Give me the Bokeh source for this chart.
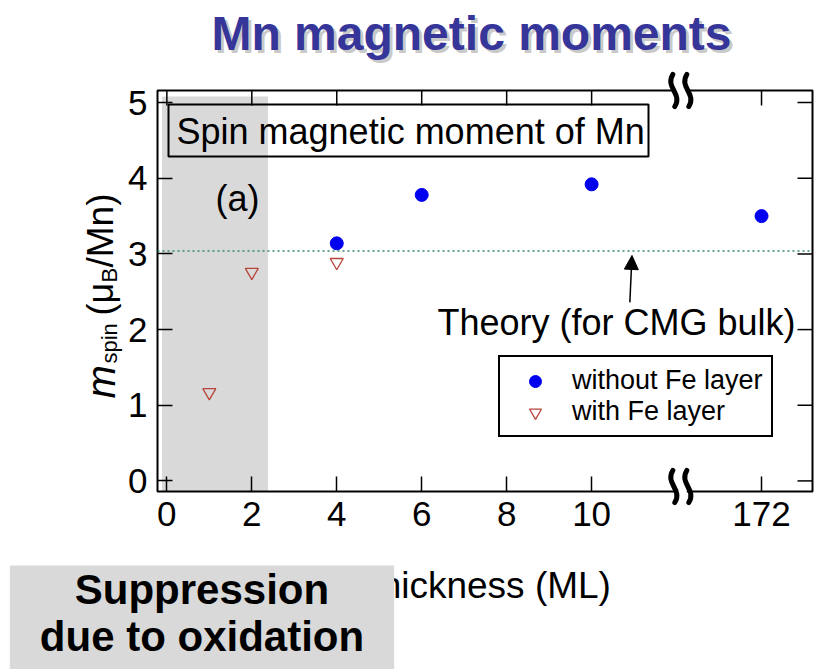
import math
from bokeh.plotting import figure
from bokeh.models import (Range1d, FixedTicker, Label, BoxAnnotation,
                          Arrow, NormalHead, Legend, LegendItem)
from bokeh.embed import file_html
from bokeh.resources import INLINE

# Mn spin magnetic moment versus layer thickness (ML)
thick_without = [4, 6, 10, 172]
m_without = [3.14, 3.78, 3.92, 3.50]
thick_with = [1, 2, 4]
m_with = [1.17, 2.76, 2.89]
theory_bulk = 3.04          # calculated value for bulk CMG
oxidized_up_to = 2.38       # thickness range suppressed by oxidation

x_tick_values = [0, 2, 4, 6, 8, 10, 172]
y_tick_values = [0, 1, 2, 3, 4, 5]

# broken x axis: everything past the break is drawn at a compressed position
BREAK_POS = 12.1
BULK_POS = 14.0


def axis_x(t):
    return t if t <= BREAK_POS else BULK_POS + (t - 172) * 0.01


FONT = "Liberation Sans"
W, H = 819, 669
# the axes box: pixel edges and the data span it shows
FL, FR, FT, FB = 157, 812, 90, 491
BOX_X = (-0.22, 15.2)
BOX_Y = (-0.14, 5.16)
TICK_LEN = 15

# the plotting area covers the whole canvas; axes are pinned to the box edges
ux = (BOX_X[1] - BOX_X[0]) / (FR - FL)
uy = (BOX_Y[1] - BOX_Y[0]) / (FB - FT)
x_range = Range1d(BOX_X[0] - FL * ux, BOX_X[1] + (W - FR) * ux)
y_range = Range1d(BOX_Y[0] - (H - FB) * uy, BOX_Y[1] + FT * uy)


def px(sx):
    return BOX_X[0] + (sx - FL) * ux


def py(sy):
    return BOX_Y[0] + (FB - sy) * uy


p = figure(width=W, height=H, x_range=x_range, y_range=y_range,
           output_backend="svg", toolbar_location=None,
           min_border_left=0, min_border_right=0, min_border_top=0, min_border_bottom=0)
p.xgrid.visible = False
p.ygrid.visible = False
p.outline_line_color = None
p.background_fill_color = "white"
p.border_fill_color = "white"

x_ticks = [axis_x(t) for t in x_tick_values]
x_overrides = {axis_x(t): str(t) for t in x_tick_values}


def style_axis(ax, loc):
    ax.fixed_location = loc
    ax.axis_line_color = None
    ax.major_tick_in = TICK_LEN
    ax.major_tick_out = 0
    ax.minor_tick_line_color = None
    ax.major_tick_line_color = "black"
    ax.major_tick_line_width = 1.5
    ax.major_label_text_font = FONT
    ax.major_label_text_font_size = "35px"
    ax.major_label_text_color = "black"
    ax.major_label_standoff = 10


xb = p.xaxis[0]
xb.ticker = FixedTicker(ticks=x_ticks)
xb.major_label_overrides = x_overrides
style_axis(xb, BOX_Y[0])

yl = p.yaxis[0]
yl.ticker = FixedTicker(ticks=y_tick_values)
style_axis(yl, BOX_X[0])

# mirrored inward ticks on the top and right edges of the box
p.segment(x0=x_ticks, y0=[BOX_Y[1]] * len(x_ticks),
          x1=x_ticks, y1=[BOX_Y[1] - TICK_LEN * uy] * len(x_ticks),
          line_color="black", line_width=1.5)
p.segment(x0=[BOX_X[1]] * len(y_tick_values), y0=y_tick_values,
          x1=[BOX_X[1] - TICK_LEN * ux] * len(y_tick_values), y1=y_tick_values,
          line_color="black", line_width=1.5)

# shaded oxidation region
p.add_layout(BoxAnnotation(left=px(161.5), right=oxidized_up_to, top=py(96),
                           bottom=BOX_Y[0], fill_color="#d9d9d9", fill_alpha=1.0,
                           line_color=None, level="underlay"))

# axes frame
p.add_layout(BoxAnnotation(left=BOX_X[0], right=BOX_X[1], bottom=BOX_Y[0], top=BOX_Y[1],
                           fill_alpha=0, line_color="black", line_alpha=1.0,
                           line_width=2, level="underlay"))

# axis break marks: a gap in the frame line and two S-shaped strokes
bx = (BREAK_POS - BOX_X[0]) / ux + FL          # break centre in pixels
for edge, cy in ((FT, FT), (FB, FB - 5)):
    p.segment(x0=[px(bx - 6)], y0=[py(edge)], x1=[px(bx + 6)], y1=[py(edge)],
              line_color="white", line_width=5)
    for sx in (bx - 7, bx + 7):
        top, bot = cy - 16, cy + 16
        p.bezier(x0=[px(sx - 1)], y0=[py(top)], x1=[px(sx + 1)], y1=[py(bot)],
                 cx0=[px(sx - 9)], cy0=[py(top + 13)], cx1=[px(sx + 9)], cy1=[py(bot - 13)],
                 line_color="black", line_width=5, line_cap="round")

# theory line with pointer
p.line([BOX_X[0], BOX_X[1]], [theory_bulk, theory_bulk], line_color="#2e8b6a",
       line_dash="2 3", line_width=1.5)
p.add_layout(Arrow(end=NormalHead(size=14, fill_color="black", line_color="black"),
                   x_start=10.9, y_start=theory_bulk - 0.68,
                   x_end=10.95, y_end=theory_bulk - 0.06,
                   line_color="black", line_width=1.5))
p.add_layout(Label(x=px(437), y=py(322), text="Theory (for CMG bulk)",
                   text_font=FONT, text_font_size="36px", text_color="black",
                   text_align="left", text_baseline="middle"))

# data
r_without = p.scatter([axis_x(t) for t in thick_without], m_without, marker="circle",
                      size=13, fill_color="#0000f0", line_color="#0000f0")
r_with = p.scatter([axis_x(t) for t in thick_with], m_with, marker="inverted_triangle",
                   size=13, fill_color=None, line_color="#b8443a", line_width=1.3)

legend = Legend(items=[LegendItem(label="without Fe layer", renderers=[r_without]),
                       LegendItem(label="with Fe layer", renderers=[r_with])],
                location=(498, H - 437), orientation="vertical")
legend.label_text_font = FONT
legend.label_text_font_size = "27px"
legend.label_text_color = "black"
legend.label_height = 30
legend.glyph_height = 30
legend.glyph_width = 54
legend.label_standoff = 10
legend.spacing = 0
legend.padding = 8
legend.margin = 0
legend.border_line_color = "black"
legend.border_line_width = 2
legend.border_line_alpha = 1.0
legend.background_fill_color = "white"
legend.background_fill_alpha = 1.0
p.add_layout(legend, "center")

# boxed panel heading and panel tag
p.add_layout(BoxAnnotation(left=px(168), right=px(648), top=py(104), bottom=py(156),
                           fill_alpha=0, line_color="black", line_alpha=1.0,
                           line_width=2))
p.add_layout(Label(x=px(176), y=py(131), text="Spin magnetic moment of Mn",
                   text_font=FONT, text_font_size="36px", text_color="black",
                   text_align="left", text_baseline="middle"))
p.add_layout(Label(x=px(237), y=py(198), text="(a)", text_font=FONT,
                   text_font_size="36px", text_color="black",
                   text_align="center", text_baseline="middle"))

# axis titles: x label, and y label built from pieces m_spin (μ_B/Mn)
p.add_layout(Label(x=px(484), y=py(585), text="Thickness (ML)", text_font=FONT,
                   text_font_size="37px", text_color="black",
                   text_align="center", text_baseline="middle"))
ylabel_parts = [("m", 40, "italic", 100, 398),
                ("spin", 22, "normal", 109, 363),
                ("(μ", 36, "normal", 100, 315),
                ("B", 22, "normal", 109, 282),
                ("/Mn)", 37, "normal", 100, 267)]
for txt, size, style, sx, sy in ylabel_parts:
    p.add_layout(Label(x=px(sx), y=py(sy), text=txt, angle=math.pi / 2,
                       text_font=FONT, text_font_size=f"{size}px", text_font_style=style,
                       text_color="black", text_align="left", text_baseline="middle"))

# title with soft shadow
for dx, dy, col, a in [(3, -3, "#9a9a9a", 0.55), (0, 0, "#35359a", 1.0)]:
    p.add_layout(Label(x=px(471), y=py(33), text="Mn magnetic moments", x_offset=dx,
                       y_offset=dy, text_font=FONT, text_font_size="48px",
                       text_font_style="bold", text_color=col, text_alpha=a,
                       text_align="center", text_baseline="middle"))

# note box in the lower left
p.add_layout(Label(x=px(201.5), y=py(642), text="Suppression\ndue to oxidation",
                   text_font=FONT, text_font_size="42px", text_font_style="bold",
                   text_color="black", text_align="center", text_baseline="middle",
                   text_line_height=1.0,
                   background_fill_color="#d9d9d9", background_fill_alpha=1.0,
                   padding=dict(left=30, right=30, top=0, bottom=60)))

open("out.html", "w").write(file_html(p, INLINE))
